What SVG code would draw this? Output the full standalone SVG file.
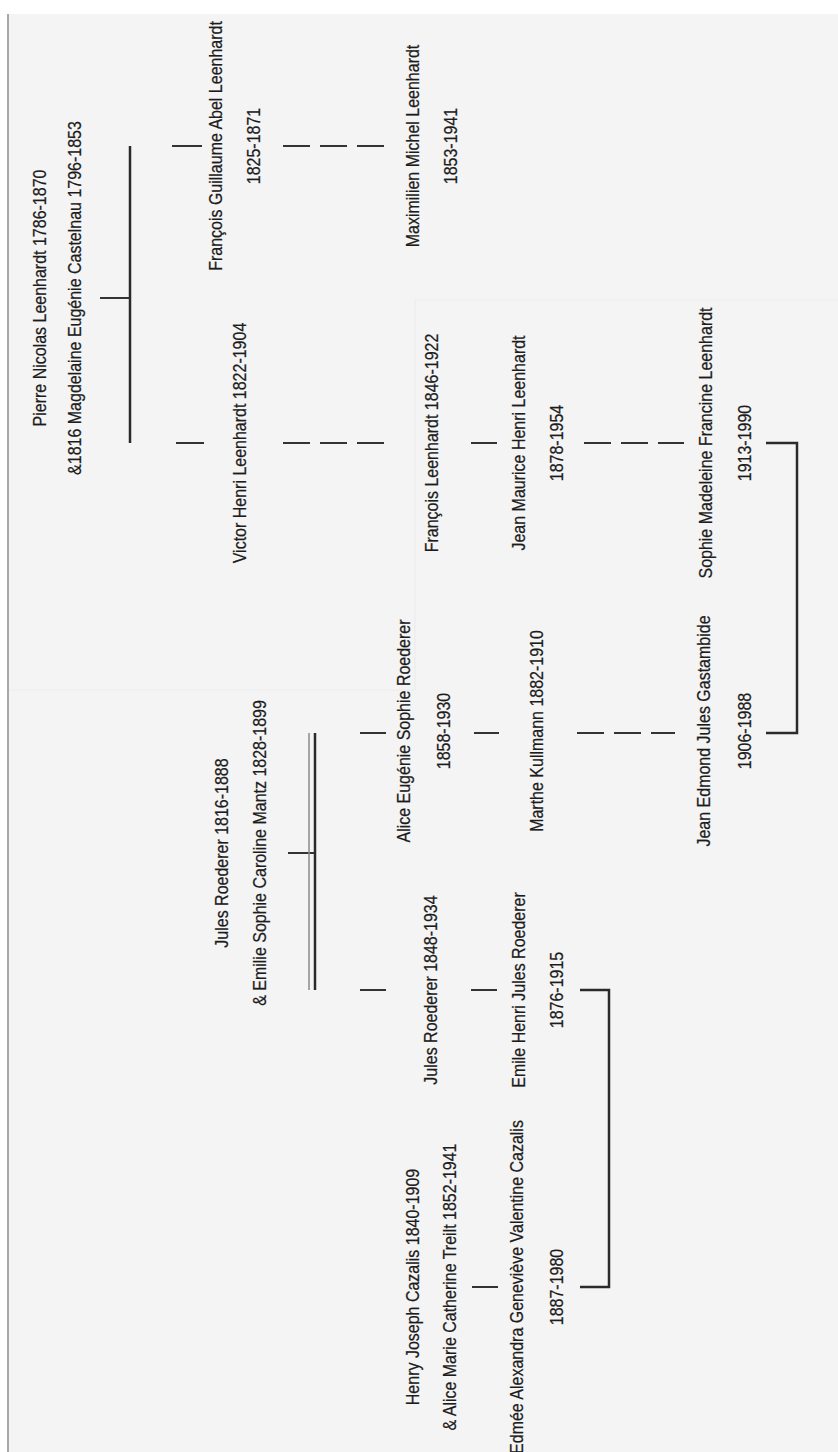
<svg xmlns="http://www.w3.org/2000/svg" width="838" height="1452" viewBox="0 0 838 1452">
<style>
.t{font-family:"Liberation Sans",Arial,sans-serif;font-size:16px;fill:#1c1c1c;stroke:#1c1c1c;stroke-width:0.2;text-anchor:middle}
.bar{stroke:#2a2a2a;stroke-width:2.5;fill:none}
.tk{stroke:#333;stroke-width:2;fill:none}
.ds{stroke:#333;stroke-width:2;fill:none;stroke-dasharray:27 10}
.seam{stroke:#ebebeb;stroke-width:1.2;fill:none}
</style>
<rect x="0" y="0" width="838" height="1452" fill="#ffffff"/>
<rect x="8" y="14" width="830" height="1438" fill="#f4f4f4"/>
<path class="seam" d="M415 300H838M415 300V690M8 690H415"/>
<line x1="8" y1="14" x2="8" y2="1452" stroke="#a8a8a8" stroke-width="2"/>

<g id="connectors">
  <line class="tk" x1="100" y1="298" x2="130" y2="298"/>
  <line class="bar" x1="130" y1="146" x2="130" y2="443"/>
  <line class="tk" x1="172" y1="146" x2="202" y2="146"/>
  <line class="tk" x1="176" y1="443" x2="204" y2="443"/>
  <line class="ds" x1="283" y1="146" x2="384" y2="146"/>
  <line class="ds" x1="283" y1="443" x2="384" y2="443"/>
  <line class="tk" x1="471" y1="443" x2="497" y2="443"/>
  <line class="ds" x1="584" y1="443" x2="684" y2="443"/>
  <path class="bar" d="M766 443H797V733H766"/>

  <line class="tk" x1="288" y1="853" x2="315" y2="853"/>
  <line x1="309" y1="733" x2="309" y2="990" stroke="#8a8a8a" stroke-width="1.5"/>
  <line class="bar" x1="315" y1="733" x2="315" y2="990"/>
  <line class="tk" x1="360" y1="733" x2="386" y2="733"/>
  <line class="tk" x1="360" y1="990" x2="386" y2="990"/>
  <line class="tk" x1="474" y1="733" x2="499" y2="733"/>
  <line class="ds" x1="577" y1="733" x2="675" y2="733"/>
  <line class="tk" x1="471" y1="990" x2="497" y2="990"/>
  <path class="bar" d="M580 990H609V1287H580"/>
  <line class="tk" x1="472" y1="1287" x2="498" y2="1287"/>
</g>

<g id="n-pierre-nicolas">
  <text class="t" transform="translate(46,298) rotate(-90) scale(1,1.18)"><tspan x="0">Pierre Nicolas Leenhardt 1786-1870</tspan><tspan x="0" dy="29.7">&amp;1816 Magdelaine Eugénie Castelnau 1796-1853</tspan></text>
</g>
<g id="n-francois-guillaume">
  <text class="t" transform="translate(222,146) rotate(-90) scale(1,1.18)"><tspan x="0">François Guillaume Abel Leenhardt</tspan><tspan x="0" dy="32.2">1825-1871</tspan></text>
</g>
<g id="n-victor-henri">
  <text class="t" transform="translate(246,443) rotate(-90) scale(1,1.18)">Victor Henri Leenhardt 1822-1904</text>
</g>
<g id="n-maximilien">
  <text class="t" transform="translate(419,146) rotate(-90) scale(1,1.18)"><tspan x="0">Maximilien Michel Leenhardt</tspan><tspan x="0" dy="32.2">1853-1941</tspan></text>
</g>
<g id="n-francois-leenhardt">
  <text class="t" transform="translate(438,443) rotate(-90) scale(1,1.18)">François Leenhardt 1846-1922</text>
</g>
<g id="n-jean-maurice">
  <text class="t" transform="translate(525,443) rotate(-90) scale(1,1.18)"><tspan x="0">Jean Maurice Henri Leenhardt</tspan><tspan x="0" dy="32.2">1878-1954</tspan></text>
</g>
<g id="n-sophie-madeleine">
  <text class="t" transform="translate(712,443) rotate(-90) scale(1,1.18)"><tspan x="0">Sophie Madeleine Francine Leenhardt</tspan><tspan x="0" dy="33.1">1913-1990</tspan></text>
</g>
<g id="n-jules-roederer-1816">
  <text class="t" transform="translate(228,853) rotate(-90) scale(1,1.18)"><tspan x="0">Jules Roederer 1816-1888</tspan><tspan x="0" dy="32.2">&amp; Emilie Sophie Caroline Mantz 1828-1899</tspan></text>
</g>
<g id="n-alice-eugenie">
  <text class="t" transform="translate(410,731) rotate(-90) scale(1,1.18)"><tspan x="0">Alice Eugénie Sophie Roederer</tspan><tspan x="0" dy="33.9">1858-1930</tspan></text>
</g>
<g id="n-jules-roederer-1848">
  <text class="t" transform="translate(437,990) rotate(-90) scale(1,1.18)">Jules Roederer 1848-1934</text>
</g>
<g id="n-marthe">
  <text class="t" transform="translate(543,731) rotate(-90) scale(1,1.18)">Marthe Kullmann 1882-1910</text>
</g>
<g id="n-jean-edmond">
  <text class="t" transform="translate(710,731) rotate(-90) scale(1,1.18)"><tspan x="0">Jean Edmond Jules Gastambide</tspan><tspan x="0" dy="34.7">1906-1988</tspan></text>
</g>
<g id="n-emile-henri">
  <text class="t" transform="translate(525,990) rotate(-90) scale(1,1.18)"><tspan x="0">Emile Henri Jules Roederer</tspan><tspan x="0" dy="32.2">1876-1915</tspan></text>
</g>
<g id="n-henry-joseph">
  <text class="t" transform="translate(419,1287) rotate(-90) scale(1,1.18)"><tspan x="0">Henry Joseph Cazalis 1840-1909</tspan><tspan x="0" dy="31.4">&amp; Alice Marie Catherine Treilt 1852-1941</tspan></text>
</g>
<g id="n-edmee">
  <text class="t" transform="translate(523,1287) rotate(-90) scale(1,1.18)"><tspan x="0">Edmée Alexandra Geneviève Valentine Cazalis</tspan><tspan x="0" dy="33.9">1887-1980</tspan></text>
</g>
</svg>
